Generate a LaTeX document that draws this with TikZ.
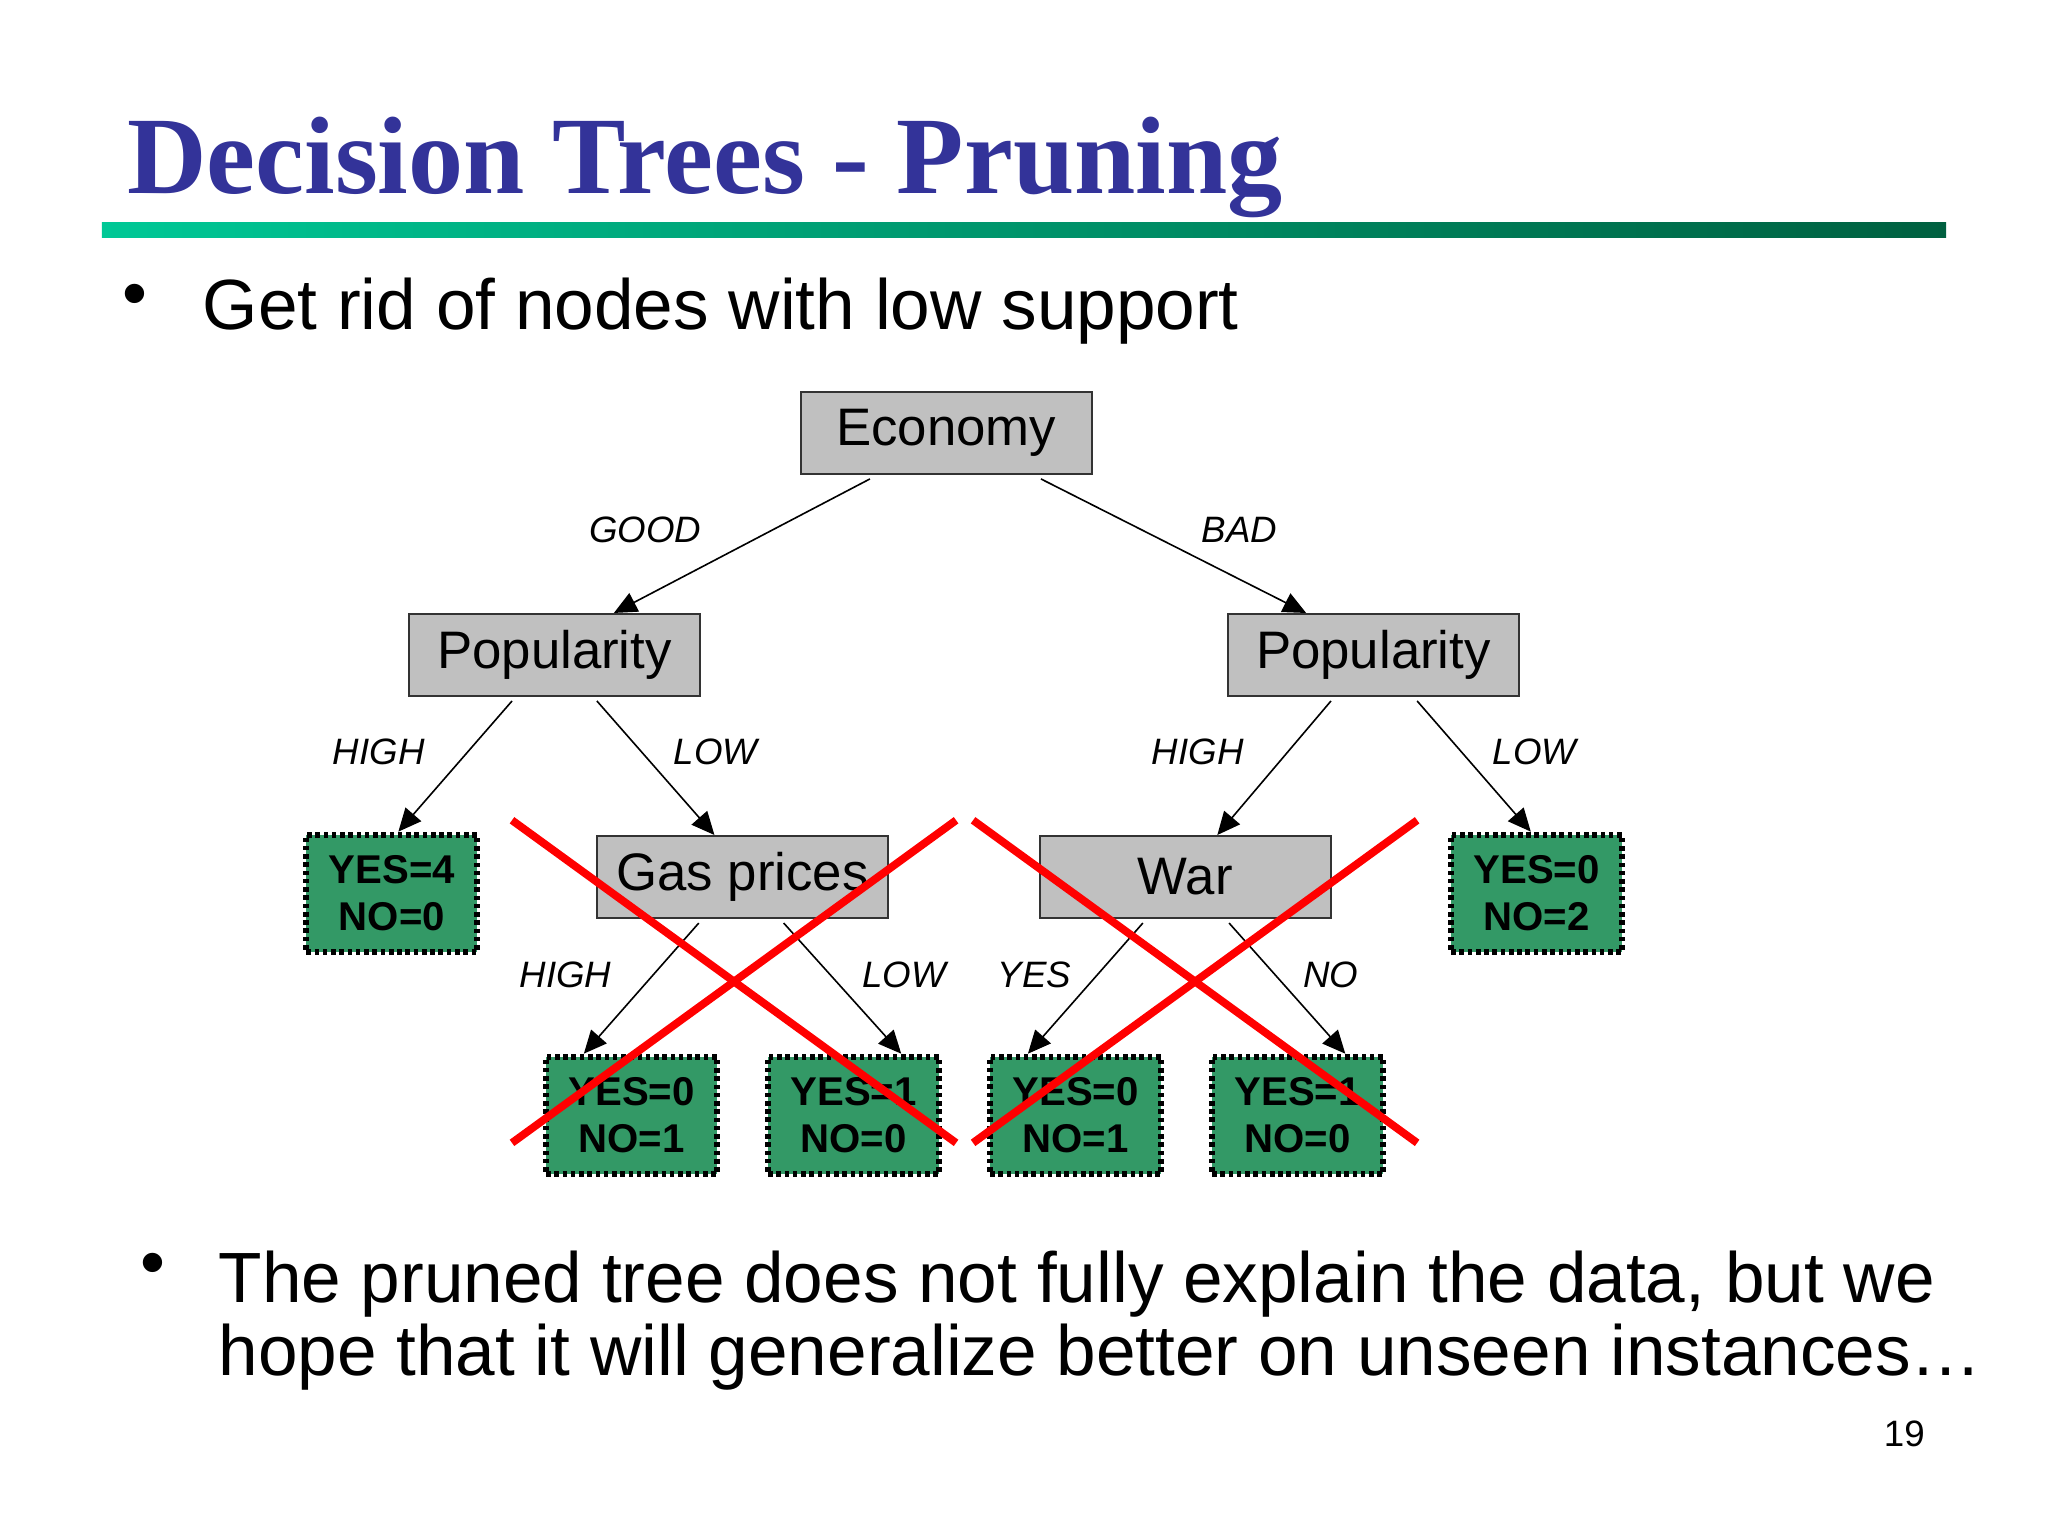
\documentclass[tikz,border=0pt]{standalone}
\usepackage{fontspec}
\setmainfont{Liberation Sans}
\newfontfamily\titlefont{Liberation Serif}
\usetikzlibrary{arrows.meta,calc}
\definecolor{titleblue}{HTML}{333399}
\definecolor{leafgreen}{HTML}{339966}
\definecolor{boxgray}{HTML}{C0C0C0}
\begin{document}
\begin{tikzpicture}[x=0.02cm,y=-0.02cm,
  gbox/.style={draw=black!80,fill=boxgray,line width=0.8pt,minimum width=4.46cm,minimum height=1.26cm,inner sep=0pt,font=\fontsize{23}{26}\selectfont},
  leaf/.style={draw=black,fill=leafgreen,line width=2.6pt,dash pattern=on 2pt off 1.6pt,minimum width=2.62cm,minimum height=1.80cm,inner sep=0pt,align=center,font=\bfseries\fontsize{17.5}{20.5}\selectfont},
  edge/.style={line width=0.7pt,-{Triangle[length=10pt,width=9pt]}},
  lab/.style={font=\itshape\fontsize{16}{18}\selectfont},
  cross/.style={red,line width=3.4pt}]
\useasboundingbox (0,0) rectangle (1568,1176);
% title
\node[anchor=base west,inner sep=0pt,text=titleblue,font=\titlefont\bfseries\fontsize{48}{52}\selectfont] (title) at (97,148) {Decision Trees - Pruning};
\shade[left color={rgb,255:red,0;green,200;blue,150},right color={rgb,255:red,0;green,96;blue,64}] (78,170) rectangle (1490,182);
% bullets
\node[inner sep=0pt,font=\fontsize{31}{34}\selectfont] (b1) at (103,230) {•};
\node[anchor=base west,inner sep=0pt,font=\fontsize{31}{34}\selectfont] (t1) at (155,252) {Get rid of nodes with low support};
\node[inner sep=0pt,font=\fontsize{31}{34}\selectfont] (b2) at (117,972) {•};
\node[anchor=base west,inner sep=0pt,align=left,font=\fontsize{31}{56}\selectfont] (t2) at (167,997) {The pruned tree does not fully explain the data, but we};
\node[anchor=base west,inner sep=0pt,font=\fontsize{31}{34}\selectfont] (t3) at (167,1053) {hope that it will generalize better on unseen instances\dots};
\node[font=\fontsize{16}{18}\selectfont] (pg) at (1458,1098) {19};
% nodes
\node[gbox] (eco) at (724.5,331.5) {Economy};
\node[gbox] (popl) at (424.5,501.5) {Popularity};
\node[gbox] (popr) at (1051.5,501.5) {Popularity};
\node[gbox] (gas) at (568.5,671.5) {Gas prices};
\node[gbox] (war) at (907.5,671.5) {War};
\node[leaf] (l1) at (300,684) {YES=4\\NO=0};
\node[leaf] (l2) at (1176.5,684) {YES=0\\NO=2};
\node[leaf] (l3) at (483.5,854) {YES=0\\NO=1};
\node[leaf] (l4) at (653.5,854) {YES=1\\NO=0};
\node[leaf] (l5) at (823.5,854) {YES=0\\NO=1};
\node[leaf] (l6) at (993.5,854) {YES=1\\NO=0};
% edges
\draw[edge] ($(eco.south)+(-58.5,3)$) -- ($(popl.north)+(45.5,0)$);
\draw[edge] ($(eco.south)+(72.5,3)$) -- ($(popr.north)+(-51.5,0)$);
\draw[edge] ($(popl.south)+(-32.5,3)$) -- ($(l1.north)+(5,0)$);
\draw[edge] ($(popl.south)+(32.5,3)$) -- ($(gas.north)+(-21.5,0)$);
\draw[edge] ($(popr.south)+(-32.5,3)$) -- ($(war.north)+(24.5,0)$);
\draw[edge] ($(popr.south)+(33.5,3)$) -- ($(l2.north)+(-4.5,0)$);
\draw[edge] ($(gas.south)+(-33.5,3)$) -- ($(l3.north)+(-36.5,0)$);
\draw[edge] ($(gas.south)+(31.5,3)$) -- ($(l4.north)+(36.5,0)$);
\draw[edge] ($(war.south)+(-32.5,3)$) -- ($(l5.north)+(-36.5,0)$);
\draw[edge] ($(war.south)+(33.5,3)$) -- ($(l6.north)+(36.5,0)$);
% labels
\node[lab] (g) at (494,406) {GOOD};
\node[lab] (bd) at (949,406) {BAD};
\node[lab] (h1) at (290,576) {HIGH};
\node[lab] (lo1) at (548,576) {LOW};
\node[lab] (h2) at (917,576) {HIGH};
\node[lab] (lo2) at (1175,576) {LOW};
\node[lab] (h3) at (433,746) {HIGH};
\node[lab] (lo3) at (692,746) {LOW};
\node[lab] (ys) at (792,746) {YES};
\node[lab] (no) at (1019,746) {NO};
% red crosses
\draw[cross] (392,628) -- (732,875);
\draw[cross] (392,875) -- (732,628);
\draw[cross] (745,628) -- (1085,875);
\draw[cross] (745,875) -- (1085,628);
\end{tikzpicture}
\end{document}
